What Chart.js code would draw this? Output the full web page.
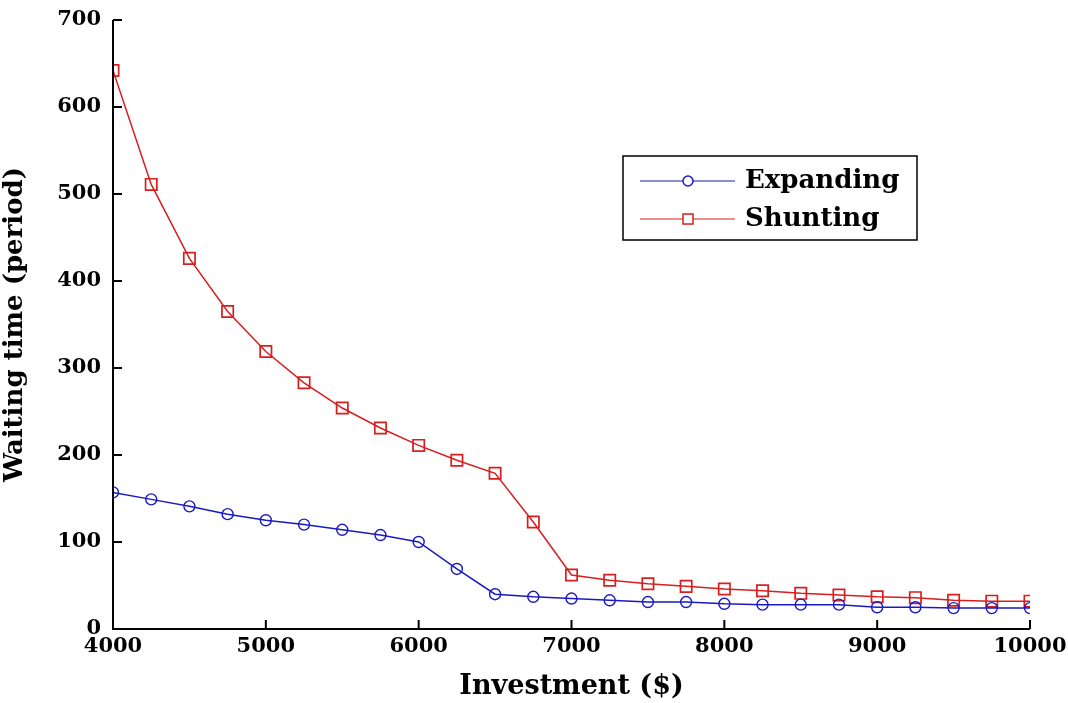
<!DOCTYPE html>
<html>
<head>
<meta charset="utf-8">
<script src="https://cdn.jsdelivr.net/npm/chart.js@4"></script>
<style>
  html, body { margin: 0; padding: 0; background: #fff; }
  #wrap { width: 1068px; height: 703px; }
</style>
</head>
<body>
<div id="wrap"><canvas id="graph" width="1068" height="703"></canvas></div>
<script>
// investment levels (x)
const investment = [4000, 4250, 4500, 4750, 5000, 5250, 5500, 5750, 6000, 6250, 6500, 6750, 7000,
  7250, 7500, 7750, 8000, 8250, 8500, 8750, 9000, 9250, 9500, 9750, 10000];
// waiting time
const expanding = [157, 149, 141, 132, 125, 120, 114, 108, 100, 69, 40, 37, 35,
  33, 31, 31, 29, 28, 28, 28, 25, 25, 24, 24, 24];
const shunting = [642, 511, 426, 365, 319, 283, 254, 231, 211, 194, 179, 123, 62,
  56, 52, 49, 46, 44, 41, 39, 37, 36, 33, 32, 32];
const xTicks = [4000, 5000, 6000, 7000, 8000, 9000, 10000];
const yTicks = [0, 100, 200, 300, 400, 500, 600, 700];

const blue = "#1a1ac0";
const red = "#d81e1e";
const serif = "'DejaVu Serif', 'Liberation Serif', serif";

function toPoints(ys) {
  return investment.map((x, i) => ({ x: x, y: ys[i] }));
}

// inward tick marks, drawn from the scales
const innerTicks = {
  id: "innerTicks",
  afterDraw(chart) {
    const ctx = chart.ctx;
    const xs = chart.scales.x;
    const ys = chart.scales.y;
    const area = chart.chartArea;
    ctx.save();
    ctx.strokeStyle = "#000";
    ctx.lineWidth = 2;
    ctx.beginPath();
    ctx.moveTo(area.left, ys.getPixelForValue(700));
    ctx.lineTo(area.left, area.bottom);
    ctx.lineTo(area.right, area.bottom);
    xTicks.forEach((v) => {
      const px = xs.getPixelForValue(v);
      ctx.moveTo(px, area.bottom);
      ctx.lineTo(px, area.bottom - 9);
    });
    yTicks.forEach((v) => {
      const py = ys.getPixelForValue(v);
      ctx.moveTo(area.left, py);
      ctx.lineTo(area.left + 9, py);
    });
    ctx.stroke();
    ctx.restore();
  },
};

// boxed legend inside the plot
const boxLegend = {
  id: "boxLegend",
  afterDraw(chart) {
    const ctx = chart.ctx;
    ctx.save();
    ctx.strokeStyle = "#000";
    ctx.lineWidth = 1.5;
    ctx.strokeRect(623, 156, 294, 84);
    const rows = [
      { label: "Expanding", color: blue, style: "circle", y: 181 },
      { label: "Shunting", color: red, style: "rect", y: 219 },
    ];
    rows.forEach((r) => {
      ctx.strokeStyle = r.color;
      ctx.lineWidth = 1.2;
      ctx.beginPath();
      ctx.moveTo(640, r.y);
      ctx.lineTo(735, r.y);
      ctx.stroke();
      ctx.fillStyle = "#fff";
      ctx.lineWidth = 1.5;
      if (r.style === "circle") {
        ctx.beginPath();
        ctx.arc(688, r.y, 5, 0, Math.PI * 2);
        ctx.fill();
        ctx.stroke();
      } else {
        ctx.fillRect(683, r.y - 5, 10, 10);
        ctx.strokeRect(683, r.y - 5, 10, 10);
      }
      ctx.fillStyle = "#000";
      ctx.font = "bold 26px " + serif;
      ctx.textBaseline = "middle";
      ctx.fillText(r.label, 745, r.y);
    });
    ctx.restore();
  },
};

const ctx = document.getElementById("graph").getContext("2d");
new Chart(ctx, {
  type: "line",
  data: {
    datasets: [
      {
        label: "Expanding",
        data: toPoints(expanding),
        borderColor: blue,
        backgroundColor: "rgba(255,255,255,0)",
        borderWidth: 1.5,
        pointStyle: "circle",
        pointRadius: 5.5,
        pointBorderWidth: 1.4,
        pointBorderColor: blue,
        tension: 0,
      },
      {
        label: "Shunting",
        data: toPoints(shunting),
        borderColor: red,
        backgroundColor: "rgba(255,255,255,0)",
        borderWidth: 1.5,
        pointStyle: "rect",
        pointRadius: 8,
        pointBorderWidth: 1.7,
        pointBorderColor: red,
        tension: 0,
      },
    ],
  },
  options: {
    responsive: false,
    animation: false,
    layout: { padding: { top: 20, right: 38, left: 0, bottom: 0 } },
    plugins: {
      legend: { display: false },
      tooltip: { enabled: false },
    },
    scales: {
      x: {
        type: "linear",
        min: 4000,
        max: 10000,
        border: { display: false },
        grid: { display: false, drawTicks: false },
        afterBuildTicks: (s) => { s.ticks = xTicks.map((v) => ({ value: v })); },
        afterFit: (s) => { s.height = 74; s.paddingLeft = 0; s.paddingRight = 0; },
        ticks: {
          padding: 5,
          color: "#000",
          maxRotation: 0,
          callback: (v) => String(v),
          font: { family: serif, size: 21, weight: "bold" },
        },
        title: {
          display: true,
          text: "Investment ($)",
          color: "#000",
          padding: { top: 6, bottom: 0 },
          font: { family: serif, size: 27, weight: "bold" },
        },
      },
      y: {
        min: 0,
        max: 700,
        border: { display: false },
        grid: { display: false, drawTicks: false },
        afterBuildTicks: (s) => { s.ticks = yTicks.map((v) => ({ value: v })); },
        afterFit: (s) => { s.width = 113; s.paddingTop = 0; s.paddingBottom = 0; },
        ticks: {
          padding: 12,
          color: "#000",
          font: { family: serif, size: 21, weight: "bold" },
        },
        title: {
          display: true,
          text: "Waiting time (period)",
          color: "#000",
          padding: { top: 0, bottom: 4 },
          font: { family: serif, size: 26, weight: "bold" },
        },
      },
    },
  },
  plugins: [innerTicks, boxLegend],
});
</script>
</body>
</html>
